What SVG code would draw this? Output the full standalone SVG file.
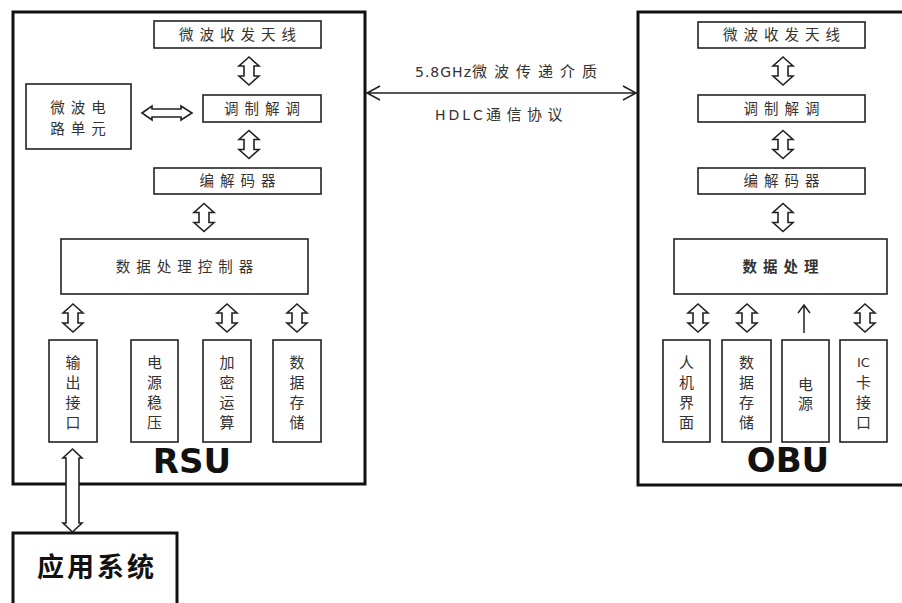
<svg xmlns="http://www.w3.org/2000/svg" xmlns:xlink="http://www.w3.org/1999/xlink" width="902" height="603" viewBox="0 0 902 603">
  <style>
    .frame { fill: #fff; stroke: #111; stroke-width: 3; }
    .box { fill: #fff; stroke: #222; stroke-width: 1.6; }
    .t { font-family: "Noto Sans CJK SC", "DejaVu Sans", sans-serif; font-size: 14.5px; fill: #333; text-anchor: middle; letter-spacing: 6px; }
    .v { font-family: "Noto Sans CJK SC", "DejaVu Sans", sans-serif; font-size: 15px; fill: #333; text-anchor: middle; }
    .mid { font-family: "Noto Sans CJK SC", sans-serif; font-size: 15px; fill: #333; }
    .lat { font-family: "DejaVu Sans", sans-serif; font-size: 14px; }
    .title { font-family: "DejaVu Sans", sans-serif; font-weight: bold; font-size: 34px; fill: #111; text-anchor: middle; }
    .arrow { fill: #fff; stroke: #222; stroke-width: 1.6; stroke-linejoin: miter; }
    .line { fill: none; stroke: #222; stroke-width: 1.5; }
  </style>
  <defs>
    <!-- vertical two-way block arrow, centred on the origin, 28px tall -->
    <path id="dbl" d="M0,-14 L10,-5 L5,-5 L5,5 L10,5 L0,14 L-10,5 L-5,5 L-5,-5 L-10,-5 Z"/>
  </defs>

  <rect width="902" height="603" fill="#fff"/>

  <!-- RSU -->
  <g id="rsu">
    <rect class="frame" x="13" y="12" width="352" height="472"/>
    <text class="title" x="192" y="473">RSU</text>
  </g>
  <g id="rsu-antenna"><rect class="box" x="154" y="21" width="167" height="27"/><text class="t" x="240.5" y="40">微波收发天线</text></g>
  <g id="rsu-modem"><rect class="box" x="203" y="95" width="118" height="27"/><text class="t" x="265" y="114">调制解调</text></g>
  <g id="rsu-circuit"><rect class="box" x="26" y="84" width="105" height="65"/><text class="t" x="81" y="113">微波电</text><text class="t" x="81" y="134">路单元</text></g>
  <g id="rsu-codec"><rect class="box" x="154" y="168" width="167" height="26"/><text class="t" x="240.5" y="186">编解码器</text></g>
  <g id="rsu-ctrl"><rect class="box" x="61" y="239" width="247" height="55"/><text class="t" x="187.5" y="272">数据处理控制器</text></g>
  <g id="rsu-out"><rect class="box" x="49" y="340" width="48" height="102"/>
    <text class="v"><tspan x="73" y="368">输</tspan><tspan x="73" y="388">出</tspan><tspan x="73" y="408">接</tspan><tspan x="73" y="428">口</tspan></text></g>
  <g id="rsu-power"><rect class="box" x="131" y="340" width="47" height="102"/>
    <text class="v"><tspan x="154.5" y="368">电</tspan><tspan x="154.5" y="388">源</tspan><tspan x="154.5" y="408">稳</tspan><tspan x="154.5" y="428">压</tspan></text></g>
  <g id="rsu-crypto"><rect class="box" x="203" y="340" width="48" height="102"/>
    <text class="v"><tspan x="227" y="368">加</tspan><tspan x="227" y="388">密</tspan><tspan x="227" y="408">运</tspan><tspan x="227" y="428">算</tspan></text></g>
  <g id="rsu-store"><rect class="box" x="273" y="340" width="48" height="102"/>
    <text class="v"><tspan x="297" y="368">数</tspan><tspan x="297" y="388">据</tspan><tspan x="297" y="408">存</tspan><tspan x="297" y="428">储</tspan></text></g>

  <!-- application system -->
  <g id="app">
    <rect class="frame" x="13" y="533" width="164" height="75"/>
    <text x="97" y="577" font-family="Noto Sans CJK SC, sans-serif" font-weight="bold" font-size="27" fill="#111" text-anchor="middle" letter-spacing="3">应用系统</text>
  </g>

  <!-- OBU -->
  <g id="obu">
    <rect class="frame" x="638" y="12" width="268" height="473"/>
    <text class="title" x="788" y="472">OBU</text>
  </g>
  <g id="obu-antenna"><rect class="box" x="698" y="22" width="167" height="26"/><text class="t" x="784.5" y="40">微波收发天线</text></g>
  <g id="obu-modem"><rect class="box" x="698" y="95" width="167" height="27"/><text class="t" x="784.5" y="114">调制解调</text></g>
  <g id="obu-codec"><rect class="box" x="698" y="168" width="167" height="26"/><text class="t" x="784.5" y="186">编解码器</text></g>
  <g id="obu-proc"><rect class="box" x="674" y="239" width="213" height="55"/><text class="t" x="783.5" y="272" font-weight="bold" fill="#222">数据处理</text></g>
  <g id="obu-hmi"><rect class="box" x="663" y="340" width="47" height="102"/>
    <text class="v"><tspan x="686.5" y="368">人</tspan><tspan x="686.5" y="388">机</tspan><tspan x="686.5" y="408">界</tspan><tspan x="686.5" y="428">面</tspan></text></g>
  <g id="obu-store"><rect class="box" x="722" y="340" width="49" height="102"/>
    <text class="v"><tspan x="746.5" y="368">数</tspan><tspan x="746.5" y="388">据</tspan><tspan x="746.5" y="408">存</tspan><tspan x="746.5" y="428">储</tspan></text></g>
  <g id="obu-power"><rect class="box" x="782" y="340" width="47" height="102"/>
    <text class="v"><tspan x="805.5" y="390">电</tspan><tspan x="805.5" y="409">源</tspan></text></g>
  <g id="obu-ic"><rect class="box" x="840" y="340" width="47" height="102"/>
    <text class="v"><tspan x="863.5" y="367" font-family="DejaVu Sans, sans-serif" font-size="13">IC</tspan><tspan x="863.5" y="388">卡</tspan><tspan x="863.5" y="408">接</tspan><tspan x="863.5" y="428">口</tspan></text></g>

  <!-- connectors -->
  <g id="connectors">
    <use href="#dbl" class="arrow" x="249" y="71"/>
    <use href="#dbl" class="arrow" x="249" y="144.5"/>
    <use href="#dbl" class="arrow" x="204" y="217.5"/>
    <use href="#dbl" class="arrow" x="73" y="318"/>
    <use href="#dbl" class="arrow" x="227" y="318"/>
    <use href="#dbl" class="arrow" x="297" y="318"/>
    <use href="#dbl" class="arrow" x="783" y="71"/>
    <use href="#dbl" class="arrow" x="783" y="144.5"/>
    <use href="#dbl" class="arrow" x="783" y="217.5"/>
    <use href="#dbl" class="arrow" x="698" y="318"/>
    <use href="#dbl" class="arrow" x="747" y="318"/>
    <use href="#dbl" class="arrow" x="865" y="318"/>
    <!-- circuit unit <-> modem -->
    <path class="arrow" d="M142,113 L152,106 L152,109 L181,109 L181,106 L192,113 L181,120 L181,117 L152,117 L152,120 Z"/>
    <!-- output port <-> application system -->
    <path class="arrow" d="M72.5,449 L82,458 L79,458 L79,523 L82,523 L72.5,532 L63,523 L66,523 L66,458 L63,458 Z"/>
    <!-- power -> data processing -->
    <path class="line" d="M804,333 L804,306 M798,313 L804,305 L810,313"/>
    <!-- RSU <-> OBU radio link -->
    <path class="line" d="M366,93 L637,93 M380,86 L367,93 L380,100 M623,86 L636,93 L623,100"/>
    <text class="mid" x="415" y="77"><tspan class="lat" letter-spacing="1">5.8GHz</tspan><tspan letter-spacing="7">微波传递介质</tspan></text>
    <text class="mid" x="435" y="120"><tspan class="lat" letter-spacing="3">HDLC</tspan><tspan letter-spacing="5.5">通信协议</tspan></text>
  </g>
</svg>
